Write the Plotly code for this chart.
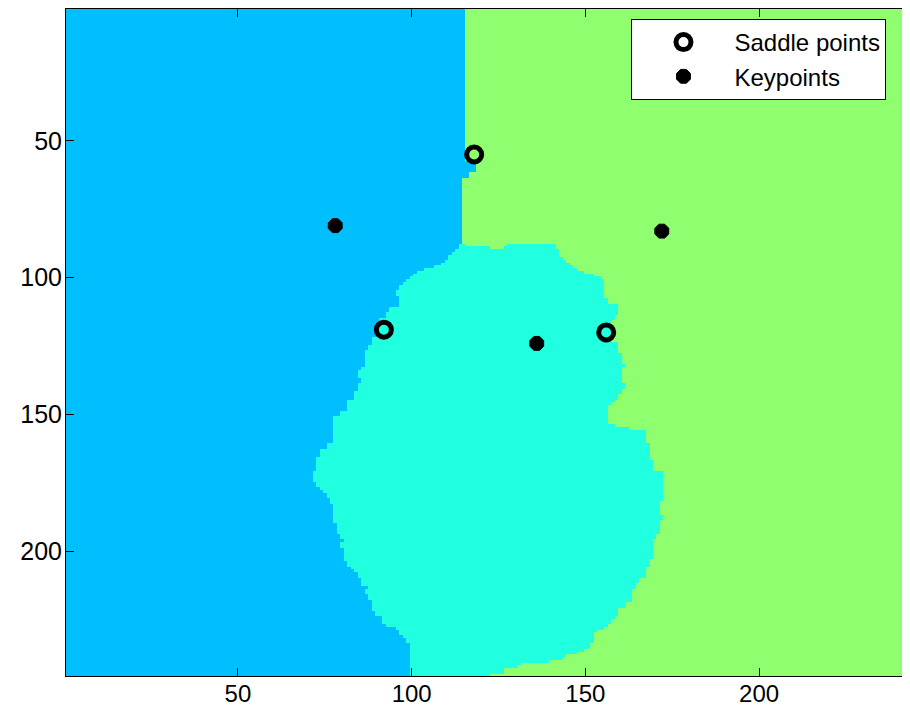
import numpy as np
import plotly.graph_objects as go

# ---------------- data ----------------
N_ROWS = 245
N_COLS = 245

region_colors = ["rgb(0,191,255)", "rgb(32,255,223)", "rgb(143,255,112)"]

# blue | green divide above the central region (row where a run starts -> last blue column)
split_start_rows = [1, 58, 62, 64]
split_last_blue_col = [115, 118, 116, 114]

# top edge of the central (cyan) region, column by column
top_cols = list(range(97, 143))
top_rows = [103, 102, 101, 100, 99, 98, 98, 97, 97, 97, 96, 96, 95, 94, 92, 91, 90,
            88, 88, 89, 89, 89, 89, 89, 89, 89, 90, 90, 90, 90, 89, 88, 87,
            85, 85, 85, 86, 88, 88, 88, 88, 88, 88, 88, 88, 90]

# left edge of the central region (row where a run starts -> first cyan column)
left_start_rows = [88, 105, 107, 111, 113, 115, 122, 125, 127, 133, 134, 137, 139, 142,
                   145, 149, 151, 161, 163, 166, 171, 175, 177, 178, 179, 181, 183, 190,
                   194, 196, 197, 199, 204, 206, 207, 208, 210, 213, 214, 216, 218, 222,
                   224, 227, 228, 229, 231, 232, 234]
left_first_col = [97, 96, 97, 94, 93, 91, 89, 88, 87, 86, 85, 86, 85, 84,
                  82, 80, 78, 76, 74, 73, 72, 73, 74, 75, 76, 77, 78, 79,
                  80, 81, 80, 81, 82, 83, 84, 85, 86, 88, 87, 88, 89, 90,
                  92, 93, 96, 97, 98, 99, 100]

# right edge of the central region (row where a run starts -> last cyan column)
right_start_rows = [88, 93, 94, 95, 96, 97, 98, 99, 100, 101, 108, 110, 114, 116, 124,
                    128, 132, 133, 139, 141, 143, 145, 146, 147, 154, 155, 156, 161, 167,
                    171, 182, 187, 189, 194, 196, 203, 206, 210, 212, 214, 219, 221, 224,
                    225, 227, 228, 229, 230, 234, 236, 237, 238, 239, 240, 241, 242, 243, 245]
right_last_col = [142, 143, 144, 145, 146, 147, 149, 152, 154, 155, 156, 159, 158, 157, 159,
                  160, 161, 160, 161, 160, 159, 158, 157, 156, 158, 162, 167, 168, 169,
                  172, 171, 172, 171, 170, 169, 168, 167, 165, 164, 163, 161, 159, 158,
                  157, 156, 155, 153, 152, 151, 149, 147, 144, 143, 139, 131, 130, 126, 122]

saddle_x = [118, 92, 156]
saddle_y = [55, 119, 120]
key_x = [78, 172, 136]
key_y = [81, 83, 124]

tick_vals = [50, 100, 150, 200]


# ---------------- build label image ----------------
def expand(starts, values, n):
    out = np.full(n, np.nan)
    for s, v in zip(starts, values):
        out[s - 1:] = v
    return out


rows = np.arange(1, N_ROWS + 1)
cols = np.arange(1, N_COLS + 1)
L = expand(left_start_rows, left_first_col, N_ROWS)
R = expand(right_start_rows, right_last_col, N_ROWS)
S = expand(split_start_rows, split_last_blue_col, N_ROWS)
T = np.zeros(N_COLS)
T[np.array(top_cols) - 1] = top_rows

Y, X = np.meshgrid(rows, cols, indexing="ij")
with np.errstate(invalid="ignore"):
    cyan = (X >= L[Y - 1]) & (X <= R[Y - 1]) & (Y >= T[X - 1])
label = np.where(X <= S[Y - 1], 0, 2)
label[cyan] = 1

cs = [[0, region_colors[0]], [1 / 3, region_colors[0]],
      [1 / 3, region_colors[1]], [2 / 3, region_colors[1]],
      [2 / 3, region_colors[2]], [1, region_colors[2]]]

fig = go.Figure()
fig.add_trace(go.Heatmap(z=label, x=cols, y=rows, colorscale=cs, zmin=-0.5, zmax=2.5,
                         showscale=False, hoverinfo="skip", showlegend=False))
fig.add_trace(go.Scatter(x=saddle_x, y=saddle_y, mode="markers", name="Saddle points",
                         marker=dict(symbol="circle-open", size=15, color="black",
                                     line=dict(width=5, color="black"))))
fig.add_trace(go.Scatter(x=key_x, y=key_y, mode="markers", name="Keypoints",
                         marker=dict(symbol="octagon", size=15, color="black",
                                     line=dict(width=1, color="black"))))

font_family = "Liberation Sans, Arial, Helvetica, sans-serif"
axis_common = dict(tickvals=tick_vals, ticks="inside", ticklen=8, tickwidth=1,
                   tickcolor="black", showline=True, linecolor="black", linewidth=1,
                   showgrid=False, zeroline=False, automargin=False)

fig.update_layout(
    width=902, height=698,
    margin=dict(l=58, r=0, t=1, b=30, autoexpand=False),
    paper_bgcolor="white", plot_bgcolor="white",
    xaxis=dict(range=[0.5, 243.45], mirror="ticks", ticklabelstandoff=-4,
               tickfont=dict(family=font_family, size=24, color="black"), **axis_common),
    yaxis=dict(range=[245.5, 1.86], ticklabelstandoff=-2,
               tickfont=dict(family=font_family, size=25, color="black"), **axis_common),
    legend=dict(x=0.67, y=0.985, xanchor="left", yanchor="top",
                bgcolor="white", bordercolor="black", borderwidth=1,
                itemwidth=92,
                font=dict(family=font_family, size=24, color="black")),
    showlegend=True,
)

fig.write_html("out.html")
